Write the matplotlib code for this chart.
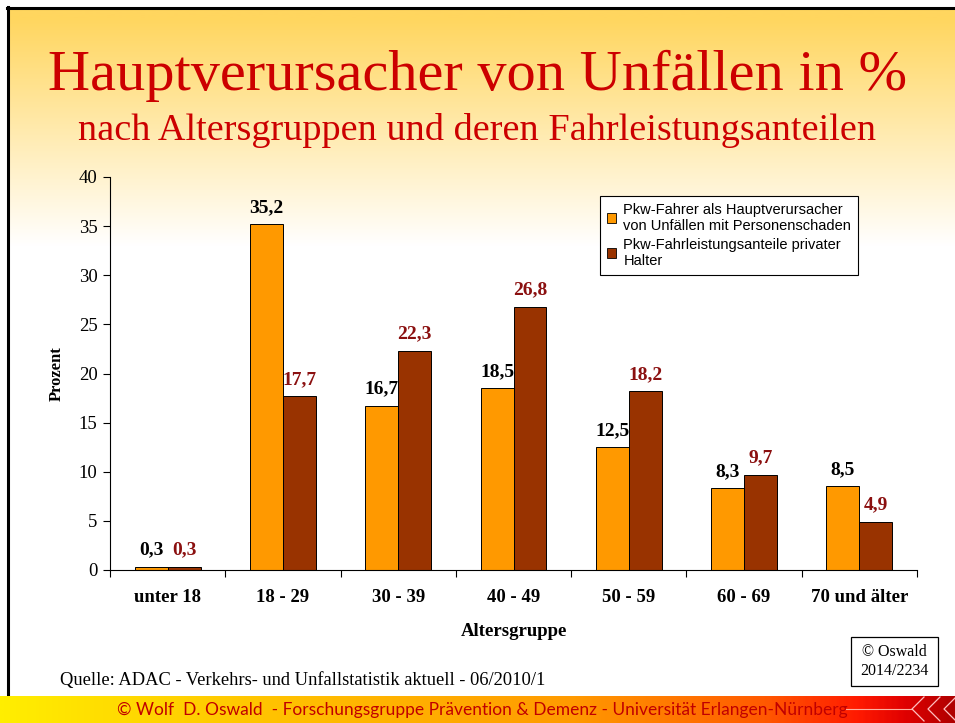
import numpy as np
import matplotlib
matplotlib.use("Agg")
import matplotlib.pyplot as plt
from matplotlib.colors import LinearSegmentedColormap
from matplotlib.patches import Rectangle

categories = ["unter 18", "18 - 29", "30 - 39", "40 - 49", "50 - 59", "60 - 69", "70 und älter"]
verursacher = [0.3, 35.2, 16.7, 18.5, 12.5, 8.3, 8.5]
fahrleistung = [0.3, 17.7, 22.3, 26.8, 18.2, 9.7, 4.9]
series_names = ["Pkw-Fahrer als Hauptverursacher\nvon Unfällen mit Personenschaden",
                "Pkw-Fahrleistungsanteile privater\nHalter"]
yticks = [0, 5, 10, 15, 20, 25, 30, 35, 40]

W, H = 955, 723
fig = plt.figure(figsize=(W / 100, H / 100), dpi=100)
serif = "Liberation Serif"
sans = "Liberation Sans"

# ---- background ----
bg = fig.add_axes([0, 0, 1, 1], zorder=-10)
bg.set_xlim(0, W); bg.set_ylim(H, 0); bg.axis("off")
grad = np.ones((H, 1, 3))
top = np.array([255, 214, 95]) / 255.0
for i in range(H):
    t = min(max((i - 10) / 230.0, 0), 1)
    grad[i, 0] = top * (1 - t) + np.array([1, 1, 1]) * t
bg.imshow(grad, extent=[8, W, H, 8], aspect="auto", zorder=0)
bg.add_patch(Rectangle((0, 0), W, 8, color="white", zorder=1))
bg.add_patch(Rectangle((0, 0), 8, H, color="white", zorder=1))
bg.plot([7, W], [8, 8], color="black", lw=2.2, zorder=2)
bg.plot([8, 8], [7, 697], color="black", lw=2.2, zorder=2)

# footer band
fcmap = LinearSegmentedColormap.from_list("foot", [(0, "#ffee00"), (0.3, "#ffc000"), (0.6, "#ff9a00"),
                                                   (0.8, "#ff5a00"), (0.9, "#ff1a00"), (0.95, "#e00000"), (1, "#b00000")])
fg = np.linspace(0, 1, 400).reshape(1, -1)
bg.imshow(fg, cmap=fcmap, extent=[0, W, H, 696], aspect="auto", zorder=3)
bg.plot([845, 912], [709, 709], color="#ffb0a0", lw=0.8, zorder=4)
for x0 in [912, 928, 944]:
    bg.plot([x0 + 12, x0, x0 + 12], [697, 709, 721], color="#ffc0c0", lw=0.9, zorder=4)
bg.text(482, 710, "© Wolf  D. Oswald  - Forschungsgruppe Prävention & Demenz - Universität Erlangen-Nürnberg",
        ha="center", va="center", fontsize=12.5, color="#c00000", family="Lato", zorder=5)

# titles
fig.text(0.5, 1 - 76 / H, "Hauptverursacher von Unfällen in %", ha="center", va="center",
         fontsize=42, color="#cc0000", family=serif)
fig.text(0.5, 1 - 131 / H, "nach Altersgruppen und deren Fahrleistungsanteilen", ha="center", va="center",
         fontsize=27.5, color="#cc0000", family=serif)

# ---- chart ----
ax = fig.add_axes([110 / W, 1 - 570 / H, (917 - 110) / W, (570 - 177) / H])
ax.patch.set_alpha(0)
x = np.arange(len(categories))
bw = 0.286
b1 = ax.bar(x - bw / 2, verursacher, bw, color="#ff9900", edgecolor="black", linewidth=0.7,
            label=series_names[0])
b2 = ax.bar(x + bw / 2, fahrleistung, bw, color="#993300", edgecolor="black", linewidth=0.7,
            label=series_names[1])
for xi, v in zip(x, verursacher):
    ax.annotate(f"{v:.1f}".replace(".", ","), (xi - bw / 2, v), xytext=(0, 6), textcoords="offset points",
                ha="center", va="bottom", fontsize=14, fontweight="bold", family=serif, color="black")
for xi, v in zip(x, fahrleistung):
    ax.annotate(f"{v:.1f}".replace(".", ","), (xi + bw / 2, v), xytext=(0, 6), textcoords="offset points",
                ha="center", va="bottom", fontsize=14, fontweight="bold", family=serif, color="#8b1010")

ax.set_xlim(-0.5, len(categories) - 0.5)
ax.set_ylim(0, 40)
ax.set_yticks(yticks)
ax.set_yticklabels([str(t) for t in yticks], family=serif, fontsize=13.5)
ax.set_xticks(np.arange(len(categories) + 1) - 0.5)
ax.set_xticklabels([])
ax.set_xticks(x, minor=True)
ax.set_xticklabels(categories, minor=True, family=serif, fontsize=13.5, fontweight="bold")
ax.tick_params(axis="x", which="minor", length=0, pad=14)
ax.tick_params(axis="x", which="major", length=5, direction="out", width=0.8)
ax.tick_params(axis="y", length=5, direction="out", width=0.8, pad=4)
for s in ["top", "right"]:
    ax.spines[s].set_visible(False)
ax.spines["left"].set_linewidth(0.8)
ax.spines["bottom"].set_linewidth(0.8)
ax.set_ylabel("Prozent", family=serif, fontsize=12, fontweight="bold", labelpad=10)
ax.set_xlabel("Altersgruppe", family=serif, fontsize=13.5, fontweight="bold", labelpad=12)

leg = fig.legend(handles=[b1, b2], labels=series_names, loc="upper left",
                 bbox_to_anchor=(600 / W, 1 - 196 / H), prop={"family": sans, "size": 10.5},
                 frameon=True, fancybox=False, edgecolor="black", framealpha=1,
                 handlelength=0.65, handleheight=0.65, handletextpad=0.5, borderpad=0.45,
                 labelspacing=0.35, borderaxespad=0)
leg.get_frame().set_linewidth(0.8)
for h in leg.legend_handles:
    h.set_linewidth(0.6)

# source & copyright
fig.text(60 / W, 1 - 680 / H, "Quelle: ADAC - Verkehrs- und Unfallstatistik aktuell - 06/2010/1",
         ha="left", va="center", family=serif, fontsize=13.3, color="black")
bg.add_patch(Rectangle((851, 637), 87, 49, facecolor="white", edgecolor="black", lw=0.9, zorder=6))
bg.text(894.5, 661.5, "© Oswald\n2014/2234", ha="center", va="center", family=serif,
        fontsize=11.5, color="black", linespacing=1.3, zorder=7)

fig.savefig("out.png", dpi=100)
